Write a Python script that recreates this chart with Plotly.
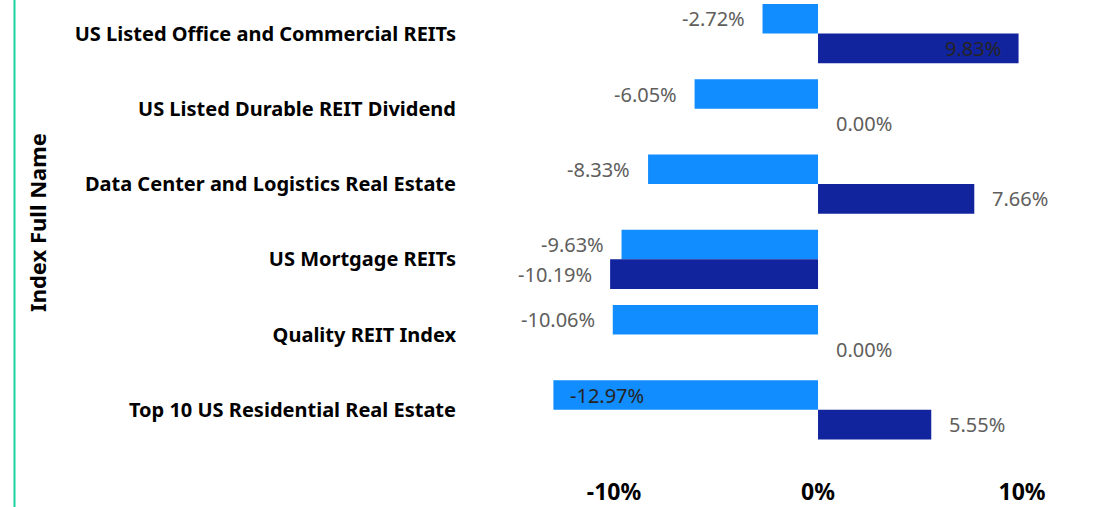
import plotly.graph_objects as go

categories = [
    "US Listed Office and Commercial REITs",
    "US Listed Durable REIT Dividend",
    "Data Center and Logistics Real Estate",
    "US Mortgage REITs",
    "Quality REIT Index",
    "Top 10 US Residential Real Estate",
]
series_a = [-0.0272, -0.0605, -0.0833, -0.0963, -0.1006, -0.1297]
series_b = [0.0983, 0.0000, 0.0766, -0.1019, 0.0000, 0.0555]
x_ticks = [-0.10, 0.0, 0.10]
x_tick_labels = ["-10%", "0%", "10%"]

LIGHT = "#118DFF"
DARK = "#12239E"
FONT = "Segoe UI, Noto Sans, Open Sans, sans-serif"

fig = go.Figure()
fig.add_trace(go.Bar(y=categories, x=series_a, orientation="h", marker_color=LIGHT,
                     marker_line_width=0, name="Series A", showlegend=False, hoverinfo="x+y"))
fig.add_trace(go.Bar(y=categories, x=series_b, orientation="h", marker_color=DARK,
                     marker_line_width=0, name="Series B", showlegend=False, hoverinfo="x+y"))

annotations = []
for vals, ysh in ((series_a, 14.75), (series_b, -14.75)):
    for cat, v in zip(categories, vals):
        inside = v < -0.12 or v > 0.09
        if inside:
            anchor = "right" if v > 0 else "left"
            xs = -16 if v > 0 else 15
            col = "#252423"
        else:
            anchor = "right" if v < 0 else "left"
            xs = -16 if v < 0 else 16
            col = "#605E5C"
        annotations.append(dict(x=v, y=cat, xref="x", yref="y", text=f"{v*100:.2f}%",
                                showarrow=False, xanchor=anchor, xshift=xs, yshift=ysh,
                                font=dict(family=FONT, size=20, color=col)))

annotations.append(dict(x=-0.698, y=0.5336, xref="paper", yref="paper", text="<b>Index Full Name</b>",
                        showarrow=False, textangle=-90, xanchor="center", yanchor="middle",
                        font=dict(family=FONT, size=22, color="#000000")))

fig.update_layout(
    width=1111, height=507,
    margin=dict(l=462, r=40, t=0, b=31),
    paper_bgcolor="white", plot_bgcolor="white",
    barmode="group", bargap=0.213, bargroupgap=0,
    annotations=annotations,
    shapes=[dict(type="line", xref="paper", yref="paper", x0=-0.7348, x1=-0.7348,
                 y0=-0.07, y1=1.0, line=dict(color="#19D3A0", width=2))],
    xaxis=dict(range=[-0.1745, 0.124], tickvals=x_ticks, ticktext=x_tick_labels,
               showgrid=False, zeroline=False, showline=False, automargin=False,
               tickfont=dict(family=FONT, size=23, color="#000000", weight="bold")),
    yaxis=dict(range=[5.88, -0.4467], showgrid=False, zeroline=False, showline=False,
               automargin=False, ticklabelstandoff=5,
               tickfont=dict(family=FONT, size=20, color="#000000", weight="bold")),
)

fig.write_html("out.html", config={"displayModeBar": False},
               post_script="document.body.style.margin='0';document.body.style.overflow='hidden';")
